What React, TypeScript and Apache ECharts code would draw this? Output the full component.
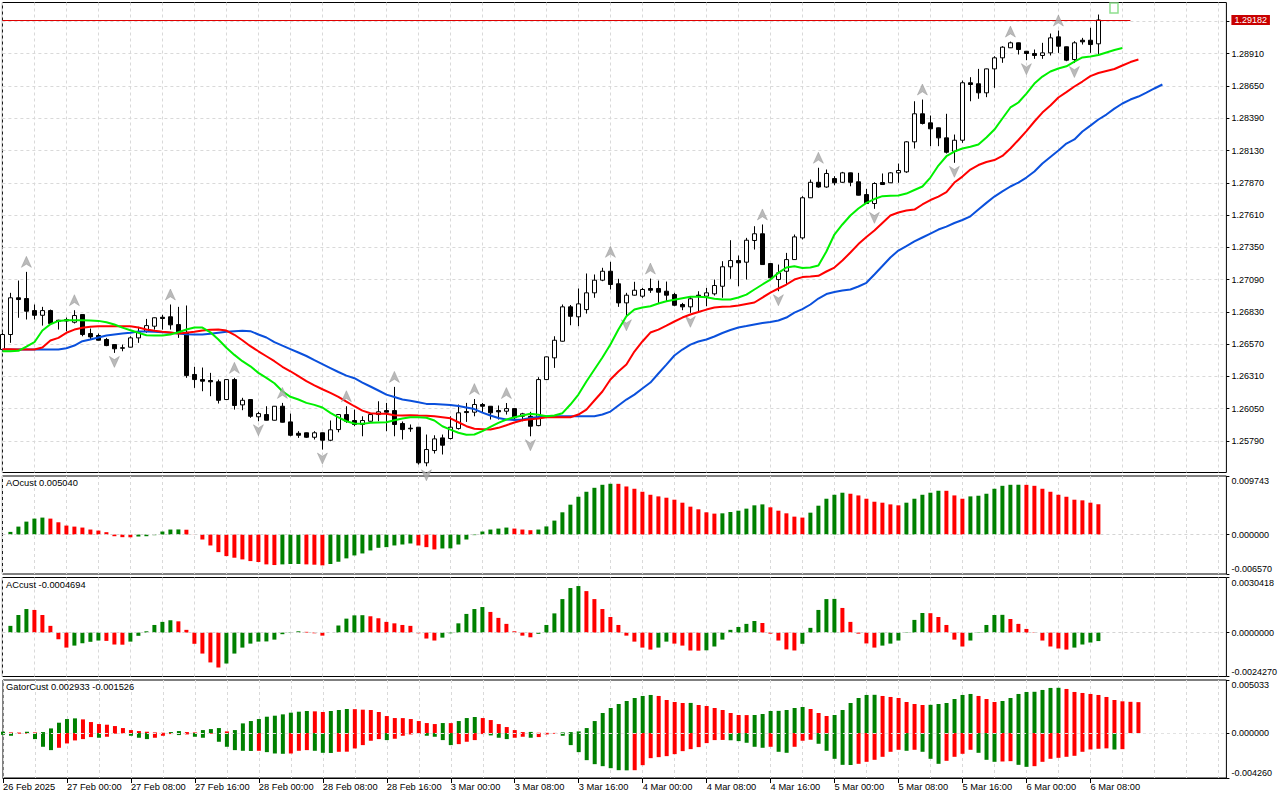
import React, { useEffect, useRef } from "react";
import * as echarts from "echarts";

// ---------- data ----------
const tickLabels = [
  "26 Feb 2025", "27 Feb 00:00", "27 Feb 08:00", "27 Feb 16:00", "28 Feb 00:00", "28 Feb 08:00",
  "28 Feb 16:00", "3 Mar 00:00", "3 Mar 08:00", "3 Mar 16:00", "4 Mar 00:00", "4 Mar 08:00",
  "4 Mar 16:00", "5 Mar 00:00", "5 Mar 08:00", "5 Mar 16:00", "6 Mar 00:00", "6 Mar 08:00",
];
const priceTicks = [1.2579, 1.2605, 1.2631, 1.2657, 1.2683, 1.2709, 1.2735, 1.2761, 1.2787, 1.2813, 1.2839, 1.2865, 1.2891];
const priceGridExtra = [1.2917];
const lastPrice = 1.29182;

// [open, close, low, high]
const candles: number[][] = [
  [1.26526, 1.26647, 1.2651, 1.26663], [1.26647, 1.26943, 1.2658, 1.26983], [1.26943, 1.26929, 1.26782, 1.27082],
  [1.26937, 1.26835, 1.26768, 1.27152], [1.2684, 1.26802, 1.26768, 1.26889], [1.26802, 1.2684, 1.26719, 1.2687],
  [1.2684, 1.26736, 1.26727, 1.26848], [1.26762, 1.26754, 1.26687, 1.26766], [1.26756, 1.26768, 1.26673, 1.26784],
  [1.26746, 1.268, 1.26736, 1.26843], [1.26808, 1.26647, 1.26633, 1.2681], [1.26655, 1.26628, 1.26607, 1.26695],
  [1.26639, 1.26601, 1.26598, 1.26655], [1.26607, 1.26558, 1.26553, 1.2662], [1.26566, 1.26532, 1.26499, 1.26568],
  [1.2654, 1.26537, 1.26512, 1.26566], [1.26545, 1.2662, 1.26543, 1.26633], [1.2662, 1.26665, 1.2658, 1.26709],
  [1.26673, 1.26719, 1.26661, 1.26773], [1.26714, 1.26782, 1.26687, 1.26785], [1.26786, 1.26776, 1.26687, 1.26806],
  [1.2679, 1.26725, 1.26687, 1.26889], [1.26727, 1.26665, 1.2662, 1.2687], [1.26665, 1.26316, 1.26298, 1.26881],
  [1.26325, 1.26284, 1.26217, 1.26387], [1.26284, 1.26271, 1.2619, 1.26381], [1.26276, 1.26266, 1.2615, 1.26338],
  [1.26266, 1.26117, 1.26091, 1.26284], [1.26123, 1.26284, 1.2612, 1.26287], [1.26284, 1.26075, 1.26042, 1.26298],
  [1.2608, 1.26117, 1.26037, 1.26137], [1.26123, 1.25988, 1.25976, 1.26125], [1.25984, 1.2601, 1.25948, 1.26024],
  [1.26002, 1.25956, 1.25954, 1.26069], [1.25956, 1.26069, 1.25954, 1.26071], [1.26069, 1.2594, 1.25938, 1.26096],
  [1.25943, 1.25835, 1.25827, 1.2601], [1.25851, 1.25835, 1.25814, 1.25868], [1.25855, 1.25819, 1.25814, 1.25857],
  [1.25819, 1.25855, 1.25801, 1.25868], [1.25855, 1.25795, 1.2572, 1.25857], [1.25795, 1.25879, 1.25787, 1.25954],
  [1.25881, 1.26002, 1.25859, 1.26004], [1.26002, 1.25948, 1.25935, 1.26069], [1.25954, 1.25922, 1.25908, 1.26042],
  [1.25922, 1.25954, 1.25827, 1.25988], [1.25948, 1.26002, 1.25946, 1.26004], [1.26002, 1.26024, 1.25948, 1.26109],
  [1.26034, 1.26021, 1.25868, 1.26096], [1.26034, 1.25922, 1.25827, 1.26225], [1.2593, 1.25881, 1.25801, 1.25946],
  [1.25892, 1.25887, 1.25863, 1.25922], [1.259, 1.25613, 1.25599, 1.25902], [1.25613, 1.2572, 1.25585, 1.25841],
  [1.25712, 1.25806, 1.25688, 1.25835], [1.25814, 1.25755, 1.2568, 1.25841], [1.25809, 1.259, 1.25801, 1.25988],
  [1.25889, 1.26016, 1.25881, 1.26083], [1.26026, 1.26018, 1.25943, 1.26096], [1.26021, 1.26083, 1.25988, 1.26127],
  [1.26083, 1.26069, 1.26016, 1.26096], [1.26069, 1.26016, 1.25962, 1.26071], [1.26034, 1.26024, 1.25962, 1.26075],
  [1.26029, 1.2605, 1.26002, 1.26095], [1.2605, 1.25976, 1.25962, 1.26052], [1.25988, 1.26008, 1.25948, 1.26016],
  [1.25988, 1.25908, 1.25827, 1.26024], [1.25913, 1.26284, 1.25908, 1.26303], [1.26284, 1.26467, 1.2628, 1.2647],
  [1.26459, 1.26601, 1.26378, 1.26633], [1.26593, 1.2687, 1.2659, 1.26889], [1.2687, 1.26794, 1.26722, 1.26885],
  [1.2679, 1.26894, 1.26714, 1.27018], [1.26848, 1.26983, 1.26816, 1.27139], [1.26983, 1.27085, 1.26943, 1.27131],
  [1.27085, 1.27157, 1.27077, 1.27185], [1.27157, 1.2705, 1.2701, 1.27233], [1.27056, 1.26902, 1.2687, 1.27096],
  [1.26902, 1.26964, 1.26794, 1.26983], [1.26964, 1.27004, 1.26961, 1.27072], [1.26956, 1.2701, 1.26943, 1.27023],
  [1.27018, 1.27004, 1.26983, 1.27098], [1.27018, 1.26988, 1.26902, 1.27082], [1.26996, 1.26964, 1.26915, 1.27074],
  [1.26969, 1.26883, 1.26875, 1.26983], [1.26889, 1.2687, 1.26843, 1.26902], [1.2687, 1.26935, 1.26822, 1.26956],
  [1.26964, 1.26956, 1.26835, 1.26996], [1.26956, 1.26983, 1.26875, 1.27023], [1.26975, 1.27042, 1.26961, 1.2709],
  [1.27036, 1.27193, 1.26943, 1.27238], [1.27193, 1.27243, 1.27096, 1.27407], [1.27243, 1.27225, 1.27036, 1.27284],
  [1.2723, 1.27407, 1.2709, 1.27426], [1.27405, 1.27459, 1.27332, 1.2752], [1.27459, 1.27211, 1.27209, 1.27534],
  [1.27219, 1.27104, 1.2709, 1.27221], [1.2709, 1.27144, 1.26996, 1.27211], [1.27157, 1.27251, 1.2705, 1.27305],
  [1.27251, 1.27434, 1.27249, 1.27453], [1.27426, 1.27749, 1.27413, 1.27762], [1.27749, 1.27874, 1.27747, 1.27896],
  [1.27874, 1.27836, 1.2783, 1.27991], [1.27836, 1.27945, 1.2783, 1.27977], [1.27904, 1.2787, 1.2785, 1.27923],
  [1.27874, 1.2795, 1.2787, 1.27958], [1.2795, 1.27874, 1.27842, 1.27952], [1.27878, 1.2777, 1.27768, 1.2795],
  [1.27775, 1.27703, 1.277, 1.27821], [1.27703, 1.27864, 1.2766, 1.27874], [1.27872, 1.27856, 1.27852, 1.27945],
  [1.2787, 1.2795, 1.27868, 1.27955], [1.2795, 1.27969, 1.2787, 1.28025], [1.27958, 1.282, 1.2795, 1.28205],
  [1.282, 1.28426, 1.28146, 1.28527], [1.28426, 1.28348, 1.2834, 1.28541], [1.28353, 1.28305, 1.28165, 1.28412],
  [1.28313, 1.28232, 1.28165, 1.28315], [1.28232, 1.28116, 1.28106, 1.28426], [1.28124, 1.28213, 1.28031, 1.28259],
  [1.28213, 1.28676, 1.28192, 1.28694], [1.28676, 1.28662, 1.28527, 1.28721], [1.28668, 1.28595, 1.28547, 1.28788],
  [1.28595, 1.28788, 1.2856, 1.2879], [1.28788, 1.28877, 1.28635, 1.2889], [1.28877, 1.28963, 1.28837, 1.28971],
  [1.28958, 1.28998, 1.28956, 1.29008], [1.28998, 1.28944, 1.28904, 1.29], [1.2893, 1.28912, 1.28858, 1.28932],
  [1.28912, 1.28896, 1.28869, 1.28944], [1.28896, 1.28917, 1.28869, 1.28998], [1.28917, 1.29038, 1.28896, 1.29073],
  [1.29046, 1.28971, 1.28917, 1.29097], [1.28966, 1.28858, 1.2885, 1.28968], [1.28863, 1.28998, 1.28835, 1.29011],
  [1.29019, 1.29006, 1.28984, 1.29038], [1.29019, 1.28984, 1.28917, 1.29119], [1.2899, 1.29182, 1.28904, 1.29226],
];

const fractalUpBars = [3, 9, 21, 29, 35, 43, 49, 59, 63, 76, 81, 95, 102, 115, 126, 132];
const fractalDownBars = [14, 32, 40, 53, 66, 78, 86, 97, 109, 119, 128, 134];

// Alligator (already shifted to their drawn positions)
const jaw = [
  1.26526, 1.26526, 1.26526, 1.26526, 1.26526, 1.26526, 1.26526, 1.26526, 1.26537, 1.26558,
  1.26593, 1.26607, 1.26623, 1.26639, 1.26647, 1.26655, 1.26661, 1.26671, 1.26671, 1.26669,
  1.26665, 1.26661, 1.26655, 1.26649, 1.26647, 1.26647, 1.26653, 1.26661, 1.26669, 1.26674,
  1.26677, 1.26674, 1.26647, 1.26623, 1.26586, 1.26558, 1.2653, 1.26502, 1.26474, 1.26441,
  1.26409, 1.26377, 1.26345, 1.26316, 1.26295, 1.2626, 1.26228, 1.26196, 1.26163, 1.26143,
  1.26123, 1.26113, 1.26101, 1.26088, 1.26087, 1.26083, 1.26079, 1.26071, 1.26059, 1.26046,
  1.26018, 1.25994, 1.25974, 1.25962, 1.25958, 1.25962, 1.25974, 1.25982, 1.25988, 1.25988,
  1.25988, 1.25988, 1.25988, 1.25988, 1.25988, 1.26002, 1.26026, 1.26075, 1.26123, 1.26163,
  1.26212, 1.2626, 1.26333, 1.26405, 1.26478, 1.26526, 1.26566, 1.26591, 1.26607, 1.26631,
  1.26659, 1.26683, 1.26703, 1.26715, 1.26728, 1.2674, 1.26748, 1.2676, 1.26784, 1.26824,
  1.26852, 1.26889, 1.26937, 1.26973, 1.26989, 1.27002, 1.2701, 1.27034, 1.27064, 1.27131,
  1.27199, 1.27268, 1.27324, 1.2736, 1.27397, 1.27429, 1.27461, 1.27493, 1.27517, 1.27546,
  1.2757, 1.276, 1.27654, 1.27708, 1.27759, 1.278, 1.2784, 1.27872, 1.27912, 1.27961,
  1.28025, 1.28078, 1.2813, 1.28186, 1.28219, 1.28283, 1.28331, 1.2838, 1.2842, 1.28468,
  1.28509, 1.28541, 1.28565, 1.28597, 1.2863, 1.28662,
];
const teeth = [
  1.26528, 1.26528, 1.26526, 1.26526, 1.26526, 1.26542, 1.26599, 1.2662, 1.26661, 1.26687,
  1.26701, 1.26709, 1.26714, 1.26714, 1.26714, 1.26714, 1.26714, 1.26703, 1.26687, 1.26677,
  1.26669, 1.26663, 1.26655, 1.26661, 1.26669, 1.26679, 1.26685, 1.26687, 1.26679, 1.26645,
  1.26601, 1.26553, 1.26512, 1.26472, 1.26432, 1.26387, 1.26351, 1.26311, 1.26271, 1.26238,
  1.26206, 1.26177, 1.26145, 1.26107, 1.26069, 1.26034, 1.26013, 1.26008, 1.26008, 1.25997,
  1.25994, 1.25997, 1.25994, 1.25992, 1.25988, 1.2598, 1.25972, 1.2594, 1.25908, 1.25887,
  1.25884, 1.25881, 1.25895, 1.25916, 1.25938, 1.25956, 1.25964, 1.2597, 1.2598, 1.2598,
  1.2598, 1.2598, 1.26002, 1.26042, 1.26115, 1.26188, 1.26284, 1.26349, 1.26405, 1.2651,
  1.26591, 1.26663, 1.26687, 1.26719, 1.26752, 1.26784, 1.26808, 1.26828, 1.26848, 1.26865,
  1.2687, 1.26873, 1.26881, 1.26893, 1.26905, 1.26945, 1.26985, 1.27018, 1.2705, 1.2709,
  1.2711, 1.27114, 1.2712, 1.27155, 1.27187, 1.27243, 1.27308, 1.27376, 1.27433, 1.27485,
  1.27546, 1.27606, 1.2763, 1.27646, 1.27654, 1.27695, 1.27731, 1.27759, 1.27795, 1.27872,
  1.2792, 1.27977, 1.28013, 1.28037, 1.28053, 1.28086, 1.28146, 1.28215, 1.28287, 1.28364,
  1.28436, 1.28493, 1.28557, 1.28601, 1.28646, 1.28686, 1.2873, 1.28755, 1.28771, 1.28787,
  1.28815, 1.28843, 1.28863,
];
const lips = [
  1.26512, 1.26512, 1.26516, 1.2655, 1.26585, 1.26679, 1.2673, 1.26757, 1.26762, 1.26762,
  1.26762, 1.2676, 1.26757, 1.26746, 1.26728, 1.26703, 1.26682, 1.26661, 1.26641, 1.26639,
  1.26639, 1.26647, 1.26665, 1.26687, 1.26703, 1.26703, 1.26665, 1.26607, 1.2654, 1.26483,
  1.26432, 1.26391, 1.26338, 1.26298, 1.26254, 1.2619, 1.26145, 1.26123, 1.26096, 1.2608,
  1.26059, 1.26016, 1.2598, 1.25948, 1.2593, 1.25927, 1.25935, 1.25938, 1.2594, 1.25956,
  1.2597, 1.2598, 1.2598, 1.25976, 1.25954, 1.25908, 1.25881, 1.25855, 1.25839, 1.25841,
  1.25868, 1.25903, 1.25935, 1.25962, 1.2598, 1.25994, 1.26008, 1.26, 1.25988, 1.25994,
  1.26013, 1.26083, 1.26163, 1.26268, 1.26365, 1.26462, 1.26566, 1.26687, 1.26794, 1.26848,
  1.26865, 1.26875, 1.26897, 1.26915, 1.26927, 1.2694, 1.26951, 1.26951, 1.26948, 1.26935,
  1.26929, 1.26929, 1.26945, 1.26969, 1.2701, 1.2705, 1.2709, 1.27144, 1.27187, 1.27197,
  1.27183, 1.27187, 1.27203, 1.27316, 1.27453, 1.27534, 1.27606, 1.27663, 1.27708, 1.27739,
  1.27762, 1.27765, 1.27767, 1.27783, 1.27812, 1.2784, 1.27912, 1.28009, 1.28084, 1.28122,
  1.28146, 1.2816, 1.28178, 1.28235, 1.28299, 1.28388, 1.28477, 1.28517, 1.28589, 1.2867,
  1.28726, 1.28767, 1.28791, 1.28809, 1.28847, 1.2888, 1.28888, 1.289, 1.2892, 1.2894,
  1.28956,
];

const aoValues: (number | null)[] = [
  null, 0.00044, 0.00132, 0.00215, 0.00265, 0.00282, 0.00265, 0.00204, 0.00149, 0.00132,
  0.00116, 0.00083, 0.00066, 0.00039, -0.00028, -0.00044, -0.00046, -0.00033, -0.00028, -0.00011,
  0.0005, 0.00083, 0.00085, 0.0008, 0.00002, -0.00083, -0.00182, -0.00293, -0.00359, -0.00386,
  -0.00414, -0.00442, -0.00458, -0.00497, -0.00508, -0.00497, -0.00491, -0.0049, -0.00497, -0.00502,
  -0.00513, -0.00491, -0.00453, -0.00397, -0.00348, -0.00315, -0.00265, -0.00221, -0.0021, -0.00182,
  -0.00166, -0.00149, -0.00182, -0.0021, -0.00248, -0.00232, -0.0023, -0.00166, -0.00083, -0.0001,
  0.0005, 0.00083, 0.00099, 0.00116, 0.00099, 0.00083, 0.00072, 0.00083, 0.00135, 0.00232,
  0.0037, 0.00497, 0.00629, 0.00712, 0.00778, 0.00828, 0.00845, 0.00844, 0.008, 0.00762,
  0.00712, 0.00662, 0.00635, 0.00613, 0.0058, 0.0053, 0.00464, 0.0042, 0.0037, 0.00348,
  0.00353, 0.00375, 0.00397, 0.00431, 0.00486, 0.00502, 0.00453, 0.00397, 0.00353, 0.00298,
  0.00282, 0.00364, 0.0048, 0.00596, 0.00662, 0.00696, 0.00679, 0.00651, 0.00596, 0.00546,
  0.0053, 0.00502, 0.00486, 0.0053, 0.00596, 0.00662, 0.00696, 0.00729, 0.00728, 0.00651,
  0.00596, 0.00635, 0.00646, 0.00679, 0.00762, 0.00811, 0.00828, 0.00829, 0.00827, 0.00811,
  0.00762, 0.00712, 0.00662, 0.00629, 0.0058, 0.00569, 0.0053, 0.00504,
];

const acValues: (number | null)[] = [
  null, 0.00037, 0.00097, 0.0013, 0.00125, 0.00097, 0.00037, -0.00037, -0.00083, -0.00072,
  -0.00059, -0.00051, -0.00044, -0.00046, -0.00066, -0.00067, -0.0005, -0.00018, 0.00007, 0.00042,
  0.00059, 0.00068, 0.00062, 0.00015, -0.00062, -0.00116, -0.00165, -0.00193, -0.00171, -0.00116,
  -0.00083, -0.00061, -0.0005, -0.00049, -0.00039, -0.00009, 0.00002, 0.00007, 0.00004, -0.00004,
  -0.00017, 0.0, 0.00039, 0.00077, 0.00095, 0.00096, 0.0009, 0.00079, 0.00059, 0.00051,
  0.00042, 0.00037, -0.00004, -0.00033, -0.00044, -0.00028, -0.00004, 0.00051, 0.00103, 0.0013,
  0.00141, 0.00114, 0.00081, 0.00048, 0.00007, -0.00017, -0.00026, -0.00007, 0.00042, 0.00106,
  0.00185, 0.00246, 0.00257, 0.00229, 0.00185, 0.0013, 0.00086, 0.00042, -0.00017, -0.0005,
  -0.00083, -0.00094, -0.00083, -0.0005, -0.00061, -0.00072, -0.00099, -0.001, -0.00098, -0.00077,
  -0.00039, 0.00015, 0.00031, 0.00048, 0.00064, 0.00053, -0.00006, -0.00044, -0.00093, -0.00099,
  -0.00062, 0.00026, 0.00125, 0.00185, 0.00186, 0.00136, 0.00059, -0.00006, -0.0006, -0.00083,
  -0.00072, -0.00061, -0.00044, 0.00002, 0.0007, 0.00108, 0.00107, 0.00086, 0.00042, -0.00039,
  -0.00077, -0.00044, 0.00002, 0.00042, 0.00097, 0.00098, 0.00075, 0.00048, 0.0002, -0.00002,
  -0.00044, -0.00077, -0.00088, -0.00094, -0.00083, -0.00066, -0.00055, -0.00047,
];

const gatorUpper = [
  0.000127, 0.000063, 0.000048, 0.000127, 0.000063, 0.000095, 0.000444, 0.000983, 0.001331, 0.001395,
  0.0013, 0.001046, 0.000856, 0.000793, 0.000666, 0.000476, 0.000285, 0.00019, 0.000127, 0.000063,
  0.000032, 0.000095, 0.00019, 0.000095, 0.000063, 0.000285, 0.00038, 0.000476, 0.000159, 0.000285,
  0.000919, 0.001141, 0.001331, 0.001553, 0.001648, 0.001775, 0.001934, 0.002029, 0.002092, 0.002061,
  0.001997, 0.002095, 0.002187, 0.002282, 0.002267, 0.002219, 0.002187, 0.001997, 0.001616, 0.001426,
  0.00142, 0.001331, 0.001141, 0.000951, 0.000856, 0.000951, 0.000945, 0.001141, 0.001426, 0.001522,
  0.001426, 0.001236, 0.000856, 0.000571, 0.000285, 0.000095, 0.00011, 0.000032, 0.000025, 0.000016,
  0.000063, 0.000095, 0.000159, 0.000476, 0.001141, 0.001902, 0.002378, 0.002758, 0.003043, 0.003329,
  0.003519, 0.003614, 0.003519, 0.003138, 0.002948, 0.002853, 0.00286, 0.002663, 0.002568, 0.002378,
  0.002187, 0.001902, 0.001712, 0.001705, 0.001715, 0.001807, 0.002092, 0.002108, 0.002187, 0.002378,
  0.002473, 0.002282, 0.001902, 0.001617, 0.001712, 0.002187, 0.002853, 0.003329, 0.003614, 0.00363,
  0.003519, 0.003424, 0.003329, 0.002948, 0.002758, 0.002663, 0.002679, 0.002758, 0.002853, 0.003233,
  0.003614, 0.003709, 0.003519, 0.003233, 0.002948, 0.003043, 0.003329, 0.003709, 0.003899, 0.003915,
  0.004089, 0.00428, 0.004295, 0.004184, 0.003899, 0.003804, 0.003709, 0.003614, 0.003424, 0.003138,
  0.003012, 0.002964, 0.002933,
];
const gatorLower = [
  -0.000159, -0.000254, -0.000063, -0.000058, -0.000571, -0.0013, -0.001617, -0.001395, -0.000983, -0.000697,
  -0.000571, -0.00038, -0.000444, -0.000349, -0.000063, -0.000032, -0.000254, -0.000444, -0.000571, -0.000444,
  -0.000254, -0.000095, -0.00019, -0.000127, -0.000349, -0.000444, -0.000063, -0.000824, -0.0013, -0.001617,
  -0.00168, -0.001696, -0.00168, -0.001807, -0.001934, -0.001965, -0.001934, -0.00168, -0.001617, -0.00168,
  -0.00187, -0.001886, -0.001775, -0.001765, -0.001458, -0.001141, -0.000729, -0.000571, -0.000666, -0.000539,
  -0.000254, -0.000127, -0.000063, -0.000254, -0.000349, -0.000666, -0.001141, -0.001046, -0.000824, -0.000666,
  -0.000095, -0.000222, -0.000444, -0.000571, -0.000444, -0.000349, -0.000444, -0.00038, -0.000127, -0.000063,
  -0.000254, -0.001141, -0.001807, -0.002568, -0.002948, -0.003138, -0.003329, -0.003519, -0.003535, -0.00352,
  -0.003043, -0.002378, -0.002282, -0.002187, -0.001997, -0.001712, -0.001522, -0.001331, -0.000951, -0.000666,
  -0.00065, -0.000682, -0.000761, -0.000919, -0.0013, -0.001395, -0.0013, -0.001775, -0.00187, -0.0013,
  -0.000729, -0.000634, -0.001014, -0.00168, -0.002441, -0.003012, -0.003027, -0.002916, -0.002726, -0.002536,
  -0.002251, -0.001775, -0.001585, -0.00168, -0.001585, -0.001775, -0.002441, -0.002916, -0.002631, -0.002251,
  -0.001965, -0.001585, -0.00187, -0.002536, -0.002726, -0.002695, -0.002663, -0.003012, -0.003202, -0.003138,
  -0.002726, -0.002441, -0.002346, -0.002251, -0.002156, -0.001775, -0.001553, -0.00149, -0.00145, -0.00156,
  -0.001526,
];

const panelTitles = ["AOcust 0.005040", "ACcust -0.0004694", "GatorCust 0.002933 -0.001526"];
const aoRange = [-0.00657, 0.009743];
const acRange = [-0.002427, 0.0030418];
const gatorRange = [-0.00426, 0.005033];
const priceRange = [1.25535, 1.29323];

// ---------- chart ----------
const N = 154;
const categories = Array.from({ length: N }, (_, i) => String(i));
const FONT = '"Liberation Sans", Arial, sans-serif';
const FS = 9.3;
const FS_Y = 9;
const GREEN = "#008000";
const RED = "#ff0000";
const GRID_COLOR = "#d9d9d9";

function colored(vals: (number | null)[], useAbs: boolean) {
  return vals.map((v, i) => {
    if (v == null) return "-";
    const prev = i > 0 ? vals[i - 1] : null;
    const cur = useAbs ? Math.abs(v) : v;
    const p = prev == null ? null : useAbs ? Math.abs(prev) : prev;
    const up = p == null ? true : cur > p;
    return { value: v, itemStyle: { color: up ? GREEN : RED } };
  });
}

const hasTimeLabel = (idx: number) => idx % 8 === 0 && idx / 8 < tickLabels.length;

function buildOption() {
  const grids = [
    { top: 2.5, height: 470 },
    { top: 476, height: 98 },
    { top: 577.5, height: 99 },
    { top: 680, height: 98 },
  ].map((g) => ({
    left: 2.4,
    width: 8 * (N - 1),
    top: g.top,
    height: g.height,
    show: true,
    borderColor: "#000",
    borderWidth: 1,
    backgroundColor: "#fff",
    containLabel: false,
  }));

  const xAxes = grids.map((_, k) => ({
    type: "category",
    gridIndex: k,
    data: categories,
    boundaryGap: false,
    axisLine: { show: k === 3, onZero: false, lineStyle: { color: "#000" } },
    axisTick: {
      show: k === 3,
      interval: (idx: number) => hasTimeLabel(idx),
      length: 5,
      lineStyle: { color: "#000" },
    },
    axisLabel: {
      show: k === 3,
      interval: (idx: number) => hasTimeLabel(idx),
      align: "left",
      margin: 4,
      color: "#000",
      fontSize: FS,
      fontFamily: FONT,
      formatter: (_v: string, idx: number) => (hasTimeLabel(idx) ? tickLabels[idx / 8] : ""),
    },
    splitLine: { show: true, interval: 3, lineStyle: { color: GRID_COLOR, type: [3, 3], width: 1 } },
  }));

  const textBase = { fontSize: FS, fontFamily: FONT, color: "#000" };
  const textY = { fontSize: FS_Y, fontFamily: FONT, color: "#000" };

  const subAxis = (grid: number, range: number[], digits: number) => {
    const [min, max] = range;
    return {
      type: "value",
      gridIndex: grid,
      position: "right",
      min,
      max,
      axisLine: { show: false },
      axisTick: { show: true, customValues: [min, 0, max], length: 3, lineStyle: { color: "#000" } },
      splitLine: { show: false },
      axisLabel: {
        ...textY,
        customValues: [min, 0, max],
        margin: 5,
        formatter: (v: number) => {
          const s = v.toFixed(digits);
          if (Math.abs(v - max) < 1e-12) return `{t|${s}}`;
          if (Math.abs(v - min) < 1e-12) return `{b|${s}}`;
          return s;
        },
        rich: {
          t: { ...textY, padding: [10, 0, 0, 0] },
          b: { ...textY, padding: [0, 0, 10, 0] },
        },
      },
    };
  };

  const yAxes = [
    {
      type: "value",
      gridIndex: 0,
      position: "right",
      min: priceRange[0],
      max: priceRange[1],
      axisLine: { show: false },
      axisTick: { show: true, customValues: [...priceTicks, ...priceGridExtra], length: 3, lineStyle: { color: "#000" } },
      splitLine: { show: true, lineStyle: { color: GRID_COLOR, type: [3, 3], width: 1 } },
      axisLabel: {
        ...textY,
        customValues: [...priceTicks, lastPrice],
        margin: 5,
        formatter: (v: number) =>
          Math.abs(v - lastPrice) < 1e-9 ? `{cur|${v.toFixed(5)}}` : v.toFixed(5),
        rich: {
          cur: { ...textY, color: "#fff", backgroundColor: "#c80000", padding: [1, 3, 0, 3] },
        },
      },
    },
    subAxis(1, aoRange, 6),
    subAxis(2, acRange, 7),
    subAxis(3, gatorRange, 6),
  ];

  const zeroLine = {
    silent: true,
    symbol: ["none", "none"],
    label: { show: false },
    lineStyle: { color: "#d4d4d4", type: [3, 3], width: 1 },
    data: [{ yAxis: 0 }],
  };

  const upArrow = "path://M6,0 L12,12 L6,8.5 L0,12 Z";
  const downArrow = "path://M0,0 L6,3.5 L12,0 L6,12 Z";

  const series: any[] = [
    {
      type: "candlestick",
      xAxisIndex: 0,
      yAxisIndex: 0,
      data: candles,
      barWidth: 4,
      itemStyle: {
        color: "#ffffff",
        color0: "#000000",
        borderColor: "#000000",
        borderColor0: "#000000",
        borderColorDoji: "#000000",
        borderWidth: 1,
      },
      markLine: {
        silent: true,
        symbol: ["none", "none"],
        label: { show: false },
        lineStyle: { color: "#e00000", width: 1, type: "solid" },
        data: [[{ coord: [0, lastPrice] }, { coord: [141, lastPrice] }]],
      },
    },
    { name: "jaw", color: "#0a50dc", data: jaw },
    { name: "teeth", color: "#ff0000", data: teeth },
    { name: "lips", color: "#00f000", data: lips },
  ].map((s: any) =>
    s.type
      ? s
      : {
          type: "line",
          xAxisIndex: 0,
          yAxisIndex: 0,
          data: s.data,
          showSymbol: false,
          symbol: "none",
          lineStyle: { color: s.color, width: 2 },
          itemStyle: { color: s.color },
        }
  );

  series.push(
    {
      type: "scatter",
      xAxisIndex: 0,
      yAxisIndex: 0,
      data: fractalUpBars.map((i) => [i, candles[i][3]]),
      symbol: upArrow,
      symbolSize: [10, 11],
      symbolOffset: [0, -10],
      itemStyle: { color: "#a9a9a9", borderColor: "#8a8a8a", borderWidth: 0.5 },
      z: 5,
    },
    {
      type: "scatter",
      xAxisIndex: 0,
      yAxisIndex: 0,
      data: fractalDownBars.map((i) => [i, candles[i][2]]),
      symbol: downArrow,
      symbolSize: [10, 11],
      symbolOffset: [0, 9],
      itemStyle: { color: "#a9a9a9", borderColor: "#8a8a8a", borderWidth: 0.5 },
      z: 1,
    },
    {
      type: "bar",
      xAxisIndex: 1,
      yAxisIndex: 1,
      data: colored(aoValues, false),
      barWidth: 4,
      markLine: zeroLine,
    },
    {
      type: "bar",
      xAxisIndex: 2,
      yAxisIndex: 2,
      data: colored(acValues, false),
      barWidth: 4,
      markLine: zeroLine,
    },
    {
      type: "bar",
      xAxisIndex: 3,
      yAxisIndex: 3,
      data: colored(gatorUpper, true),
      barWidth: 4,
      barGap: "-100%",
    },
    {
      type: "bar",
      xAxisIndex: 3,
      yAxisIndex: 3,
      data: colored(gatorLower, true),
      barWidth: 4,
      barGap: "-100%",
      markLine: { ...zeroLine, lineStyle: { color: "#e2e2e2", type: [3, 3], width: 1 } },
    }
  );

  const titleTops = [478, 580, 682.5];
  const title = panelTitles.map((t, k) => ({
    text: t,
    left: 6,
    top: titleTops[k],
    padding: 0,
    textStyle: { ...textBase, fontWeight: "normal" },
  }));

  return {
    animation: false,
    backgroundColor: "#ffffff",
    textStyle: { fontFamily: FONT },
    title,
    grid: grids,
    xAxis: xAxes,
    yAxis: yAxes,
    series,
    graphic: [
      {
        type: "rect",
        shape: { x: 1110, y: 3, width: 8, height: 10 },
        style: { fill: "#ffffff", stroke: "#8fe08f", lineWidth: 1.5 },
        z: 10,
      },
    ],
  };
}

export default function App() {
  const ref = useRef<HTMLDivElement>(null);
  useEffect(() => {
    document.body.style.margin = "0";
    if (!ref.current) return;
    const chart = echarts.init(ref.current, undefined, { renderer: "svg" });
    chart.setOption(buildOption() as any);
    return () => chart.dispose();
  }, []);
  return (
    <div
      ref={ref}
      style={{ position: "fixed", left: 0, top: 0, width: 1280, height: 800, background: "#fff" }}
    />
  );
}
